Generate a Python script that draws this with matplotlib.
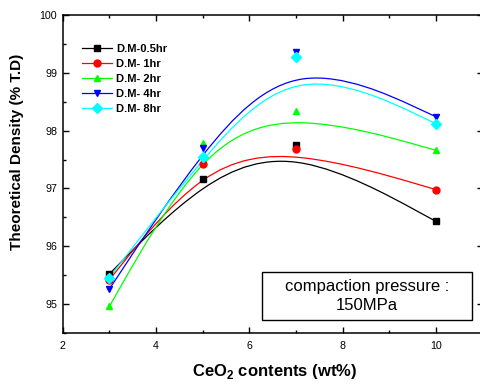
import matplotlib
matplotlib.use("Agg")
import matplotlib.pyplot as plt
from matplotlib.path import Path
from matplotlib.patches import PathPatch, Rectangle
from matplotlib.lines import Line2D

plt.rcParams['font.family'] = ['Liberation Sans', 'DejaVu Sans']

# CeO2 content (wt%)
ceo2 = [3, 5, 7, 10]

# theoretical density (% T.D) for each milling time
dm_05hr = [95.52, 97.17, 97.75, 96.43]
dm_1hr = [95.42, 97.43, 97.69, 96.98]
dm_2hr = [94.96, 97.79, 98.34, 97.66]
dm_4hr = [95.26, 97.70, 99.36, 98.24]
dm_8hr = [95.46, 97.54, 99.27, 98.12]

labels = ['D.M-0.5hr', 'D.M- 1hr', 'D.M- 2hr', 'D.M- 4hr', 'D.M- 8hr']
series = [dm_05hr, dm_1hr, dm_2hr, dm_4hr, dm_8hr]
colors = ['#000000', '#ff0000', '#00ff00', '#0000ff', '#00ffff']
markers = ['s', 'o', '^', 'v', 'D']

x_ticks = [2, 4, 6, 8, 10]
y_ticks = [95, 96, 97, 98, 99, 100]


def bspline_path(xs, ys):
    # uniform cubic B-spline with the end points repeated (Origin "B-Spline"
    # connection), turned into cubic bezier pieces for matplotlib
    pts = list(zip(xs, ys))
    pts = [pts[0], pts[0]] + pts + [pts[-1], pts[-1]]
    verts = []
    codes = []
    for i in range(len(pts) - 3):
        a, b, c, d = pts[i:i + 4]
        b0 = ((a[0] + 4 * b[0] + c[0]) / 6, (a[1] + 4 * b[1] + c[1]) / 6)
        b1 = ((2 * b[0] + c[0]) / 3, (2 * b[1] + c[1]) / 3)
        b2 = ((b[0] + 2 * c[0]) / 3, (b[1] + 2 * c[1]) / 3)
        b3 = ((b[0] + 4 * c[0] + d[0]) / 6, (b[1] + 4 * c[1] + d[1]) / 6)
        if i == 0:
            verts.append(b0)
            codes.append(Path.MOVETO)
        verts += [b1, b2, b3]
        codes += [Path.CURVE4] * 3
    return Path(verts, codes)


fig = plt.figure(figsize=(4.8, 3.87), dpi=100)
ax = fig.add_axes([0.1306, 0.1395, 0.875, 0.8217])

handles = []
for ys, lab, c, m in zip(series, labels, colors, markers):
    ms = 5 if m != 'D' else 4.6
    ax.add_patch(PathPatch(bspline_path(ceo2, ys), facecolor='none',
                           edgecolor=c, lw=0.9, zorder=2))
    ax.plot(ceo2, ys, ls='none', marker=m, color=c, markersize=ms, zorder=3)
    handles.append(Line2D([], [], color=c, lw=0.9, marker=m, markersize=ms))

ax.set_xlim(2, 11)
ax.set_ylim(94.5, 100)
ax.set_xticks(x_ticks)
ax.set_yticks(y_ticks)
ax.set_xticks([3, 5, 7, 9, 11], minor=True)
ax.set_yticks([94.5, 95.5, 96.5, 97.5, 98.5, 99.5], minor=True)
ax.tick_params(which='both', direction='in', top=True, right=True, width=1)
ax.tick_params(which='major', length=4, labelsize=7.7)
ax.tick_params(which='minor', length=2.2)
ax.tick_params(axis='x', pad=6)
ax.tick_params(axis='y', pad=4)
for sp in ax.spines.values():
    sp.set_linewidth(1.1)

ax.set_xlabel(r'CeO$_\mathregular{2}$ contents (wt%)', fontsize=12, fontweight='bold')
ax.set_ylabel('Theoretical Density (% T.D)', fontsize=11, fontweight='bold')
ax.xaxis.set_label_coords(0.505, -0.092)
ax.yaxis.set_label_coords(-0.092, 0.571)

ax.legend(handles, labels, loc='upper left', bbox_to_anchor=(0.045, 0.908),
          frameon=False, prop={'size': 8, 'weight': 'bold'}, handlelength=2.7,
          handletextpad=0.4, labelspacing=0.45, borderpad=0, borderaxespad=0)

ax.add_patch(Rectangle((0.474, 0.041), 0.5, 0.152, transform=ax.transAxes,
                       facecolor='white', edgecolor='black', lw=1, zorder=4))
ax.text(0.724, 0.117, 'compaction pressure :\n150MPa', transform=ax.transAxes,
        ha='center', va='center', fontsize=12, linespacing=1.3, zorder=5)

fig.savefig('out.png', dpi=100)
